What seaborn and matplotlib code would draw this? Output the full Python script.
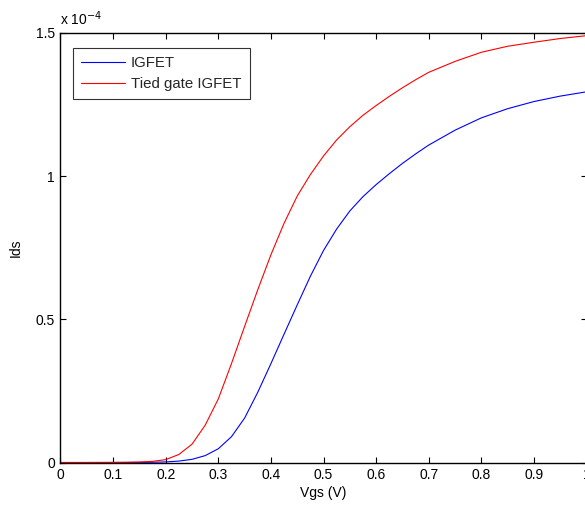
import numpy as np
import pandas as pd
import matplotlib
matplotlib.use("Agg")
import matplotlib.pyplot as plt
import seaborn as sns

# Gate voltage (V)
vgs = [0.0, 0.05, 0.10, 0.125, 0.15, 0.175, 0.20, 0.225, 0.25, 0.275, 0.30, 0.325,
       0.35, 0.375, 0.40, 0.425, 0.45, 0.475, 0.50, 0.525, 0.55, 0.575, 0.60,
       0.625, 0.65, 0.675, 0.70, 0.75, 0.80, 0.85, 0.90, 0.95, 1.00]
# Drain current in units of 1e-4 A
ids_igfet = [0.0, 0.0, 0.0001, 0.0002, 0.0004, 0.0009, 0.002, 0.005, 0.011, 0.024, 0.048, 0.090,
             0.155, 0.245, 0.345, 0.448, 0.550, 0.650, 0.740, 0.815, 0.878, 0.928, 0.970,
             1.008, 1.044, 1.077, 1.108, 1.160, 1.203, 1.235, 1.260, 1.279, 1.294]
ids_tied = [0.0, 0.0, 0.0003, 0.0007, 0.0017, 0.004, 0.010, 0.028, 0.064, 0.130, 0.222, 0.345,
            0.475, 0.603, 0.725, 0.835, 0.930, 1.005, 1.070, 1.126, 1.172, 1.212, 1.246,
            1.278, 1.308, 1.336, 1.362, 1.400, 1.432, 1.453, 1.467, 1.480, 1.490]
series_names = ["IGFET", "Tied gate IGFET"]
x_ticks = [0, 0.1, 0.2, 0.3, 0.4, 0.5, 0.6, 0.7, 0.8, 0.9, 1]
x_tick_labels = ["0", "0.1", "0.2", "0.3", "0.4", "0.5", "0.6", "0.7", "0.8", "0.9", "1"]
y_ticks = [0, 0.5, 1, 1.5]
y_tick_labels = ["0", "0.5", "1", "1.5"]

df = pd.concat([
    pd.DataFrame({"Vgs": vgs, "Ids": ids_igfet, "series": series_names[0]}),
    pd.DataFrame({"Vgs": vgs, "Ids": ids_tied, "series": series_names[1]}),
])

sns.set_theme(style="white")
plt.rcParams["font.family"] = ["Liberation Sans", "DejaVu Sans"]

fig = plt.figure(figsize=(5.85, 5.08), dpi=100)
ax = fig.add_axes([60.5 / 585, 1 - 462.5 / 508, 526 / 585, 429.7 / 508])

sns.lineplot(data=df, x="Vgs", y="Ids", hue="series", ax=ax,
             palette={"IGFET": "#0000ff", "Tied gate IGFET": "#ff0000"},
             linewidth=0.8, legend=True)

ax.set_xlim(0, 1)
ax.set_ylim(0, 1.5)
ax.set_xticks(x_ticks)
ax.set_xticklabels(x_tick_labels)
ax.set_yticks(y_ticks)
ax.set_yticklabels(y_tick_labels)
ax.tick_params(direction="in", length=4, width=0.8, top=True, right=True,
               bottom=True, left=True, labelsize=10, colors="black", pad=4)
for s in ax.spines.values():
    s.set_visible(True)
    s.set_color("black")
    s.set_linewidth(1.0)

ax.set_xlabel("Vgs (V)", fontsize=10, color="black", labelpad=3)
ax.set_ylabel("Ids", fontsize=10, color="black", labelpad=9)
ax.text(0.0, 1.012, r"x 10$^{-4}$", transform=ax.transAxes, fontsize=10,
        ha="left", va="bottom", color="black")

leg = ax.legend(loc="upper left", bbox_to_anchor=(12.5 / 526, 1 - 15 / 429.5),
                borderaxespad=0, frameon=True, fancybox=False, fontsize=10.8,
                handlelength=2.9, handletextpad=0.4, labelspacing=0.45,
                borderpad=0.55)
leg.get_frame().set_edgecolor("black")
leg.get_frame().set_linewidth(0.8)
for h in leg.get_lines():
    h.set_linewidth(0.8)

fig.savefig("out.png", dpi=100)
